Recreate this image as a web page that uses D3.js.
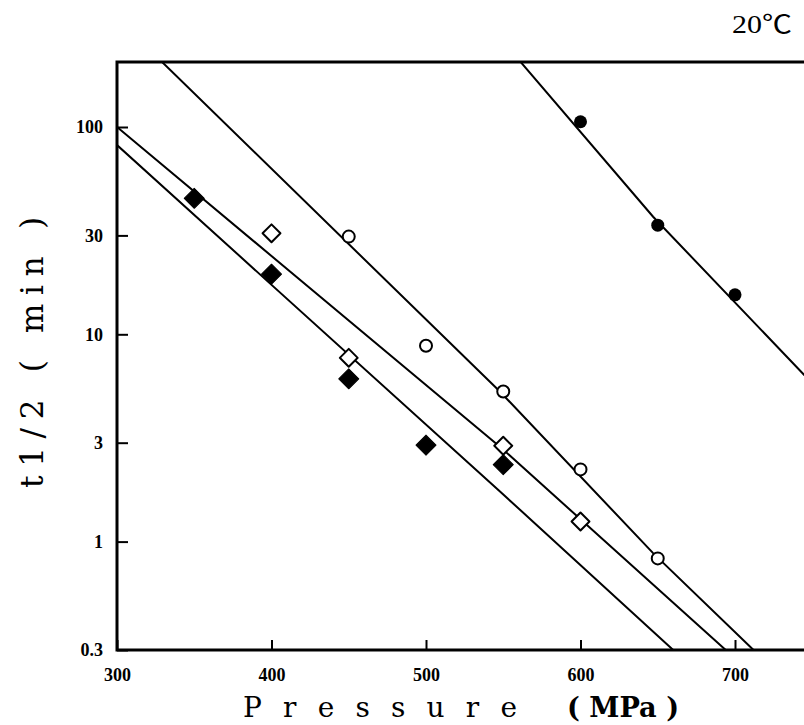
<!DOCTYPE html>
<html>
<head>
<meta charset="utf-8">
<script src="https://cdn.jsdelivr.net/npm/d3@7"></script>
<style>
  body { margin: 0; background: #fff; }
  svg { display: block; }
</style>
</head>
<body>
<div id="chart"></div>
<script>
'use strict';

// axis ticks
const pressureTicks = [300, 400, 500, 600, 700];
const timeTicks = [0.3, 1, 3, 10, 30, 100];

// measured points (pressure MPa, t1/2 min)
const filledCirclePressure = [600, 650, 700];
const filledCircleTime = [106, 33.6, 15.5];
const openCirclePressure = [450, 500, 550, 600, 650];
const openCircleTime = [29.6, 8.8, 5.3, 2.23, 0.83];
const openDiamondPressure = [400, 450, 550, 600];
const openDiamondTime = [30.7, 7.7, 2.9, 1.25];
const filledDiamondPressure = [350, 400, 450, 500, 550];
const filledDiamondTime = [45.3, 19.5, 6.1, 2.92, 2.35];

// fitted curves
const fitLowPressure = [300, 547, 660];
const fitLowTime = [81.8, 1.77, 0.3];
const fitMidPressure = [300, 549, 694];
const fitMidTime = [100, 2.82, 0.3];
const fitHighPressure = [320, 548, 647, 712];
const fitHighTime = [240, 5.28, 0.88, 0.3];
const fitFilledPressure = [550, 647, 750];
const fitFilledTime = [258, 36.9, 5.8];

(function() {

  let svg = "";

  const m = {
    width: 804,
    height: 725,
    left: 117,
    right: 804,
    top: 62,
    bottom: 650
  };

  window.onload = function() {
    svg = d3.select('#chart')
      .append('svg')
      .attr('width', m.width)
      .attr('height', m.height);

    makeChart();
  };

  function makeChart() {
    let map = drawAxes();
    plotLines(map);
    plotPoints(map);
    makeLabels();
  }

  function zipPoints(xs, ys) {
    return xs.map((d, i) => ({ p: d, t: ys[i] }));
  }

  function drawAxes() {
    let xScale = d3.scaleLinear()
      .domain([300, 700])
      .range([117, 735]);

    let yScale = d3.scaleLog()
      .domain([0.3, 100])
      .range([650, 127]);

    let xAxis = d3.axisBottom(xScale)
      .tickValues(pressureTicks)
      .tickSizeInner(-10)
      .tickSizeOuter(0)
      .tickPadding(18)
      .tickFormat(d => d);

    let gx = svg.append('g')
      .attr('transform', 'translate(0, ' + m.bottom + ')')
      .call(xAxis);

    let yAxis = d3.axisLeft(yScale)
      .tickValues(timeTicks)
      .tickSizeInner(-11)
      .tickSizeOuter(0)
      .tickPadding(14)
      .tickFormat(d => d);

    let gy = svg.append('g')
      .attr('transform', 'translate(' + m.left + ', 0)')
      .call(yAxis);

    [gx, gy].forEach(function(g) {
      g.select('.domain').remove();
      g.selectAll('.tick line')
        .attr('stroke', '#000')
        .attr('stroke-width', 2);
      g.selectAll('.tick text')
        .attr('fill', '#000')
        .style('font-family', '"Liberation Serif", serif')
        .style('font-weight', 'bold')
        .style('font-size', '18px');
    });

    // frame: left, bottom and top lines (right side is cut off)
    svg.append('path')
      .attr('d', 'M' + m.right + ',' + m.top + 'H' + m.left + 'V' + m.bottom + 'H' + m.right)
      .attr('fill', 'none')
      .attr('stroke', '#000')
      .attr('stroke-width', 3);

    svg.append('clipPath')
      .attr('id', 'plotClip')
      .append('rect')
      .attr('x', m.left)
      .attr('y', m.top)
      .attr('width', m.right - m.left)
      .attr('height', m.bottom - m.top);

    return {
      x: d => xScale(d.p),
      y: d => yScale(d.t)
    };
  }

  function plotLines(map) {
    let line = d3.line()
      .x(map.x)
      .y(map.y);

    let fits = [
      zipPoints(fitLowPressure, fitLowTime),
      zipPoints(fitMidPressure, fitMidTime),
      zipPoints(fitHighPressure, fitHighTime),
      zipPoints(fitFilledPressure, fitFilledTime)
    ];

    svg.append('g')
      .attr('clip-path', 'url(#plotClip)')
      .selectAll('.fit')
      .data(fits)
      .enter()
      .append('path')
      .attr('class', 'fit')
      .attr('d', line)
      .attr('fill', 'none')
      .attr('stroke', '#000')
      .attr('stroke-width', 2);
  }

  function plotPoints(map) {
    let g = svg.append('g');

    g.selectAll('.filledCircle')
      .data(zipPoints(filledCirclePressure, filledCircleTime))
      .enter()
      .append('circle')
      .attr('cx', map.x)
      .attr('cy', map.y)
      .attr('r', 6.5)
      .attr('fill', '#000');

    g.selectAll('.openCircle')
      .data(zipPoints(openCirclePressure, openCircleTime))
      .enter()
      .append('circle')
      .attr('cx', map.x)
      .attr('cy', map.y)
      .attr('r', 6)
      .attr('fill', '#fff')
      .attr('stroke', '#000')
      .attr('stroke-width', 2);

    let filledDiamond = d3.symbol().type(d3.symbolSquare).size(200);
    let openDiamond = d3.symbol().type(d3.symbolSquare).size(160);

    g.selectAll('.openDiamond')
      .data(zipPoints(openDiamondPressure, openDiamondTime))
      .enter()
      .append('path')
      .attr('d', openDiamond)
      .attr('transform', d => 'translate(' + map.x(d) + ',' + map.y(d) + ') rotate(45)')
      .attr('fill', '#fff')
      .attr('stroke', '#000')
      .attr('stroke-width', 2)
      .attr('stroke-linejoin', 'round');

    g.selectAll('.filledDiamond')
      .data(zipPoints(filledDiamondPressure, filledDiamondTime))
      .enter()
      .append('path')
      .attr('d', filledDiamond)
      .attr('transform', d => 'translate(' + map.x(d) + ',' + map.y(d) + ') rotate(45)')
      .attr('fill', '#000')
      .attr('stroke', '#000')
      .attr('stroke-width', 1)
      .attr('stroke-linejoin', 'round');
  }

  function makeLabels() {
    svg.append('text')
      .attr('x', 243)
      .attr('y', 717)
      .attr('textLength', 274)
      .attr('lengthAdjust', 'spacing')
      .style('font-family', '"DejaVu Serif", serif')
      .style('font-size', '28px')
      .text('Pressure');

    svg.append('text')
      .attr('x', 567)
      .attr('y', 717)
      .attr('textLength', 112)
      .attr('lengthAdjust', 'spacingAndGlyphs')
      .style('font-family', '"DejaVu Serif", serif')
      .style('font-weight', 'bold')
      .style('font-size', '28px')
      .text('( MPa )');

    svg.append('text')
      .attr('transform', 'translate(43, 488)rotate(-90)')
      .attr('textLength', 271)
      .attr('lengthAdjust', 'spacing')
      .style('font-family', '"DejaVu Serif", serif')
      .style('font-size', '31px')
      .text('t1/2 ( min )');

    svg.append('text')
      .attr('x', 732)
      .attr('y', 33)
      .attr('textLength', 60)
      .attr('lengthAdjust', 'spacingAndGlyphs')
      .style('font-family', '"Liberation Serif", "Noto Sans CJK JP", serif')
      .style('font-size', '25px')
      .text('20℃');
  }

})();
</script>
</body>
</html>
